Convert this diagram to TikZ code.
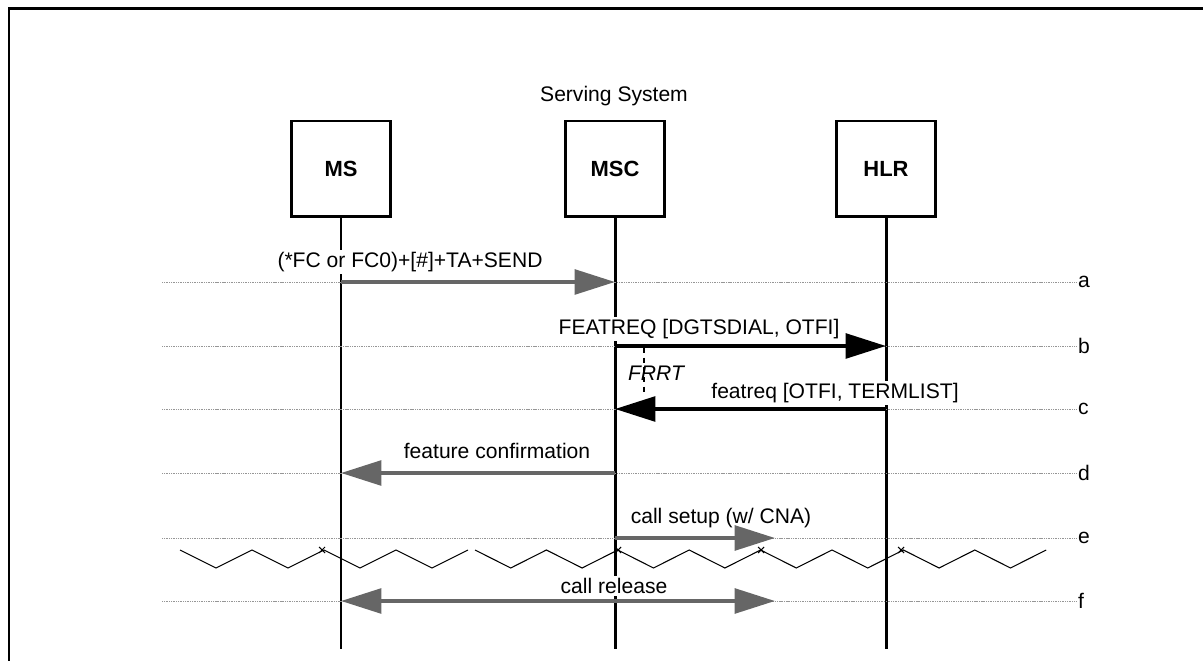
\documentclass[tikz,border=0pt]{standalone}
\usepackage{fontspec}
\setmainfont{Liberation Sans}
\usetikzlibrary{arrows.meta}
\definecolor{msggray}{RGB}{102,102,102}
\definecolor{rowgray}{RGB}{150,150,150}
\tikzset{bigtip/.tip={Triangle[length=23pt,width=14pt]}}
\begin{document}
\begin{tikzpicture}[x=0.02cm,y=-0.02cm,
every node/.style={font=\fontsize{12pt}{14pt}\selectfont},
entity/.style={draw,line width=1.7pt,minimum width=1.98cm,minimum height=1.92cm,font=\fontsize{12.5pt}{14pt}\selectfont\bfseries},
life/.style={line width=1.7pt},
row/.style={draw=rowgray,line width=0.5pt,dash pattern=on 0.6pt off 0.4pt},
msglabel/.style={fill=white,inner sep=1.5pt},
gmsg/.style={draw=msggray,line width=2.3pt,-bigtip},
bmsg/.style={draw=black,line width=2.3pt,-bigtip},
timer/.style={line width=0.8pt,dash pattern=on 3pt off 2.5pt},
zig/.style={line width=0.6pt}]
\useasboundingbox (0,0) rectangle (1203,661);
\draw[line width=1.7pt] (9,661) -- (9,9) -- (1203,9);
\node (title) at (614,96) {Serving System};
\node[entity] (ms) at (341,169) {MS};
\node[entity] (msc) at (615,169) {MSC};
\node[entity] (hlr) at (886,169) {HLR};
\foreach \n in {ms,msc,hlr}
\draw[life] (\n.south) -- ++(0,431);
\foreach \lbl/\yy in {a/282,b/346,c/409,d/473,e/538,f/601}{
\coordinate (r\lbl) at (162,\yy);
\node[anchor=west,inner sep=1pt] (l\lbl) at (1076,\yy) {\lbl};
\draw[row] (r\lbl) -- (l\lbl.west);
}
\draw[zig] (180,550) \foreach \i in {1,...,4} {-- ++(36,18) -- ++(36,-18)};
\draw[zig] (475,550) \foreach \i in {1,...,8} {-- ++(35.7,18) -- ++(35.7,-18)};
\foreach \x in {322,618,761,901}
\draw[zig] (\x-3,547) -- (\x+3,553) (\x-3,553) -- (\x+3,547);
\node[msglabel] (ta) at (410,262) {(*FC or FC0)+[\#]+TA+SEND};
\node[msglabel] (tb) at (699,329) {FEATREQ [DGTSDIAL, OTFI]};
\node[msglabel] (tc) at (835,393) {featreq [OTFI, TERMLIST]};
\node[msglabel] (td) at (497,451) {feature confirmation};
\node[msglabel] (te) at (721,518) {call setup (w/ CNA)};
\node[msglabel] (tf) at (614,586) {call release};
\coordinate (frrtstart) at (644,348);
\coordinate (frrtend) at (644,393);
\draw[timer] (frrtstart) -- (frrtend);
\node[font=\fontsize{12pt}{14pt}\selectfont\itshape] (frrt) at (656,373) {FRRT};
\coordinate (eend) at (775,538);
\coordinate (fend) at (775,601);
\draw[gmsg] (ms |- ra) -- (msc |- ra);
\draw[bmsg] (msc |- rb) -- (hlr |- rb);
\draw[bmsg] (hlr |- rc) -- (msc |- rc);
\draw[gmsg] (msc |- rd) -- (ms |- rd);
\draw[gmsg] (msc |- re) -- (eend);
\draw[gmsg,bigtip-bigtip] (ms |- rf) -- (fend);
\end{tikzpicture}
\end{document}
